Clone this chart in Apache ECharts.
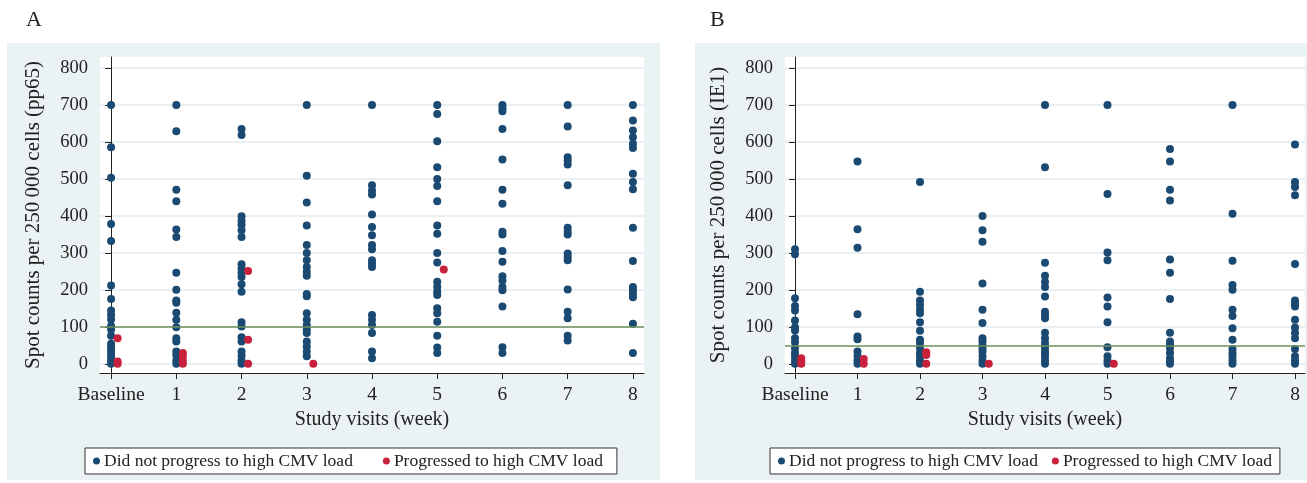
<!DOCTYPE html>
<html><head><meta charset="utf-8">
<script src="https://cdn.jsdelivr.net/npm/echarts@6/dist/echarts.min.js"></script>
<style>html,body{margin:0;padding:0;background:#fff}#c{width:1307px;height:483px}</style>
</head><body><div id="c"></div>
<script>
// ---- data ----
const visitLabels = ['Baseline', '1', '2', '3', '4', '5', '6', '7', '8'];
const yTicks = [0, 100, 200, 300, 400, 500, 600, 700, 800];
const seriesNames = ['Did not progress to high CMV load', 'Progressed to high CMV load'];
const pp65Threshold = 100;
const ie1Threshold = 50;

// Panel A: pp65, one list per visit
const pp65NoProg = [
  [700, 586, 503, 378, 332, 212, 175, 144, 132, 120, 102, 93, 76, 54, 45, 36, 27, 18, 9, 0],
  [700, 629, 471, 440, 363, 343, 246, 200, 171, 165, 138, 119, 99, 69, 60, 33, 24, 9, 0],
  [635, 619, 399, 386, 376, 361, 343, 269, 258, 246, 235, 215, 195, 112, 101, 72, 60, 33, 22, 9, 0],
  [700, 509, 436, 374, 321, 300, 280, 262, 249, 238, 189, 183, 137, 119, 105, 93, 83, 60, 47, 33, 20],
  [700, 483, 469, 458, 404, 370, 348, 321, 310, 280, 271, 262, 132, 119, 105, 83, 33, 15],
  [700, 676, 602, 532, 500, 481, 440, 374, 352, 300, 274, 222, 208, 195, 186, 150, 137, 114, 76, 44, 29],
  [700, 691, 683, 635, 553, 471, 433, 357, 350, 305, 276, 237, 225, 208, 199, 155, 45, 29],
  [700, 642, 559, 550, 539, 483, 368, 357, 350, 298, 289, 280, 201, 141, 123, 76, 63],
  [700, 658, 631, 613, 595, 584, 514, 492, 472, 368, 278, 208, 199, 189, 180, 108, 29]
];
const pp65Prog = [
  [69, 6, 0],
  [29, 20, 9, 0],
  [251, 65, 0],
  [0],
  [],
  [255],
  [],
  [],
  []
];

// Panel B: IE1, one list per visit
const ie1NoProg = [
  [310, 296, 177, 156, 144, 117, 99, 90, 69, 58, 42, 29, 20, 9, 0],
  [547, 364, 314, 134, 74, 66, 33, 20, 9, 0],
  [492, 195, 171, 159, 146, 137, 112, 89, 65, 56, 42, 29, 20, 9, 0],
  [400, 361, 330, 217, 146, 110, 69, 60, 51, 42, 33, 20, 9, 0],
  [700, 532, 273, 238, 222, 208, 182, 141, 132, 123, 84, 69, 56, 47, 38, 29, 20, 9, 0],
  [700, 459, 301, 280, 179, 155, 112, 45, 20, 9, 0],
  [581, 547, 471, 442, 282, 246, 175, 84, 60, 51, 42, 29, 15, 6, 0],
  [700, 406, 279, 213, 200, 146, 129, 96, 65, 40, 29, 20, 9, 0],
  [593, 492, 478, 456, 270, 171, 162, 155, 119, 98, 83, 69, 40, 20, 9, 0]
];
const ie1Prog = [
  [15, 6, 0],
  [13, 0],
  [31, 24, 0],
  [0],
  [],
  [0],
  [],
  [],
  []
];

// ---- build ----
const FONT = '"Liberation Serif", "Times New Roman", serif';
const TXT = '#222';
const BLUE = '#1a4a72';
const RED = '#c8213c';
const RED_OFFSET = 0.1;

function toPoints(groups, offset) {
  const out = [];
  groups.forEach((vals, i) => vals.forEach(v => out.push([i + offset, v])));
  return out;
}
const tickIdx = visitLabels.map((_, i) => i);

function xAxis(gi, ext) {
  return {
    type: 'value', gridIndex: gi, min: -ext, max: 8 + ext,
    axisLine: { show: true, onZero: false, lineStyle: { color: TXT, width: 1 } },
    axisTick: { show: true, length: 6, customValues: tickIdx, lineStyle: { color: TXT } },
    axisLabel: { customValues: tickIdx, formatter: v => visitLabels[Math.round(v)], fontFamily: FONT, fontSize: 19.5, color: TXT, margin: 12 },
    splitLine: { show: false },
    name: 'Study visits (week)', nameLocation: 'middle', nameGap: 34,
    nameTextStyle: { fontFamily: FONT, fontSize: 20, color: TXT }
  };
}
function yAxis(gi, name) {
  return {
    type: 'value', gridIndex: gi, min: -25, max: 830,
    axisLine: { show: true, lineStyle: { color: TXT, width: 1 } },
    axisTick: { show: true, length: 6, customValues: yTicks, lineStyle: { color: TXT } },
    axisLabel: { customValues: yTicks, fontFamily: FONT, fontSize: 18.5, color: TXT, margin: 12 },
    splitLine: { show: true, lineStyle: { color: '#e9f0f4', width: 2 } },
    name: name, nameLocation: 'middle', nameGap: 56,
    nameTextStyle: { fontFamily: FONT, fontSize: 21, color: TXT }
  };
}
function legend(left, gap, padRight) {
  return {
    left: left, top: 448, icon: 'circle', itemWidth: 7, itemHeight: 7, itemGap: gap,
    padding: [4, padRight, 4, 8], backgroundColor: '#fff', borderColor: '#333', borderWidth: 1, borderRadius: 0,
    textStyle: { fontFamily: FONT, fontSize: 17.5, color: TXT, padding: [0, 0, 0, -1] },
    data: seriesNames, selectedMode: false
  };
}
function refLine(val) {
  return { silent: true, symbol: 'none', label: { show: false }, animation: false,
    lineStyle: { color: '#6d8f5a', width: 1.5, type: 'solid' }, data: [{ yAxis: val }] };
}

const option = {
  animation: false,
  graphic: [
    { type: 'rect', z: -100, silent: true, shape: { x: 7, y: 43, width: 653, height: 437 }, style: { fill: '#eaf2f4' } },
    { type: 'rect', z: -100, silent: true, shape: { x: 695, y: 43, width: 612, height: 437 }, style: { fill: '#eaf2f4' } },
    { type: 'text', left: 26, top: 9, style: { text: 'A', font: '22px ' + FONT, fill: TXT } },
    { type: 'text', left: 710, top: 9, style: { text: 'B', font: '22px ' + FONT, fill: TXT } }
  ],
  grid: [
    { left: 100, top: 57, width: 544, height: 316, show: true, backgroundColor: '#fff', borderWidth: 0 },
    { left: 785, top: 57, width: 520, height: 316, show: true, backgroundColor: '#fff', borderWidth: 0 }
  ],
  xAxis: [xAxis(0, 0.17), xAxis(1, 0.16)],
  yAxis: [
    yAxis(0, 'Spot counts per 250\u2009000 cells (pp65)'),
    yAxis(1, 'Spot counts per 250\u2009000 cells (IE1)')
  ],
  legend: [legend(85, 30, 14), legend(770, 14, 8)],
  series: [
    { name: seriesNames[0], type: 'scatter', xAxisIndex: 0, yAxisIndex: 0, symbolSize: 8,
      itemStyle: { color: BLUE, opacity: 1 }, data: toPoints(pp65NoProg, 0), markLine: refLine(pp65Threshold) },
    { name: seriesNames[1], type: 'scatter', xAxisIndex: 0, yAxisIndex: 0, symbolSize: 8, z: 3,
      itemStyle: { color: RED, opacity: 1 }, data: toPoints(pp65Prog, RED_OFFSET) },
    { name: seriesNames[0], type: 'scatter', xAxisIndex: 1, yAxisIndex: 1, symbolSize: 8,
      itemStyle: { color: BLUE, opacity: 1 }, data: toPoints(ie1NoProg, 0), markLine: refLine(ie1Threshold) },
    { name: seriesNames[1], type: 'scatter', xAxisIndex: 1, yAxisIndex: 1, symbolSize: 8, z: 3,
      itemStyle: { color: RED, opacity: 1 }, data: toPoints(ie1Prog, RED_OFFSET) }
  ]
};
const chart = echarts.init(document.getElementById('c'), null, { renderer: 'canvas' });
chart.setOption(option);
</script></body></html>
